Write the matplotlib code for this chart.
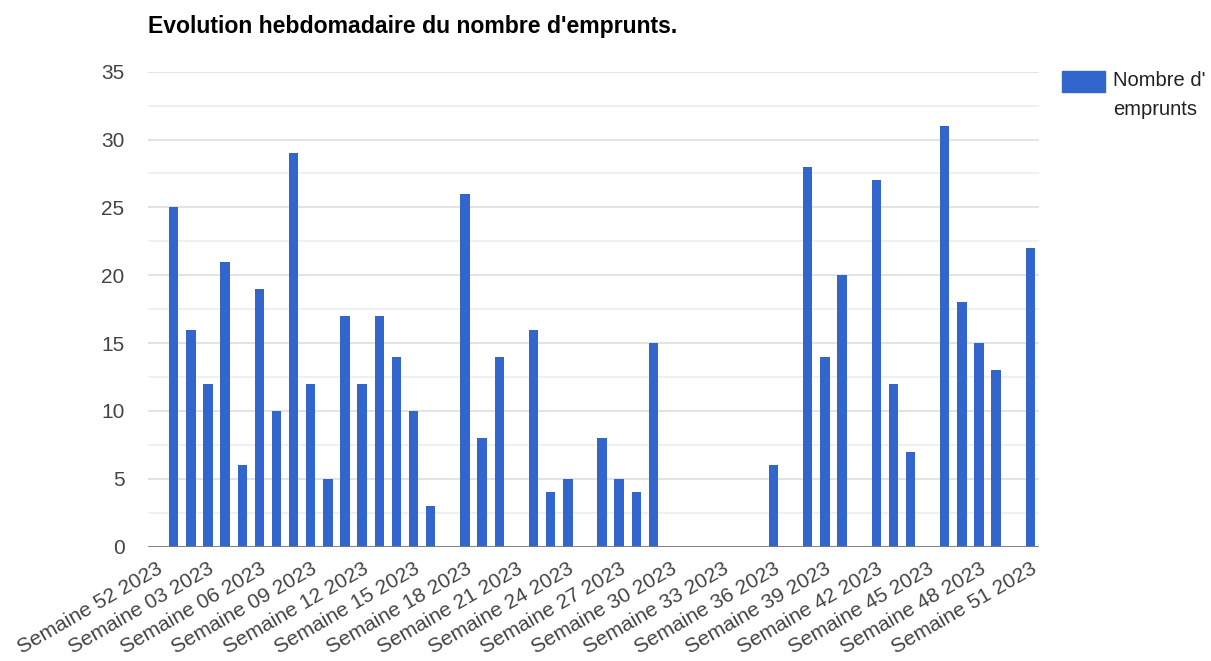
import matplotlib
matplotlib.use("Agg")
import matplotlib.pyplot as plt
from matplotlib.patches import Rectangle
import numpy as np

# semaines : 52 (2022 etiquetee 2023) puis 01 -> 51
semaines = ["52"] + ["%02d" % s for s in range(1, 52)]
etiquettes = ["Semaine %s 2023" % s for s in semaines]
emprunts = [0, 25, 16, 12, 21, 6, 19, 10, 29, 12, 5, 17, 12, 17, 14, 10, 3,
            0, 26, 8, 14, 0, 16, 4, 5, 0, 8, 5, 4, 15,
            0, 0, 0, 0, 0, 0, 6, 0, 28, 14, 20, 0, 27, 12, 7, 0,
            31, 18, 15, 13, 0, 22]
titre = "Evolution hebdomadaire du nombre d'emprunts."
legende = "Nombre d'\nemprunts"

plt.rcParams["font.family"] = ["Liberation Sans", "DejaVu Sans"]

W, H = 1211, 661
fig = plt.figure(figsize=(W / 100, H / 100), dpi=100)
ax = fig.add_axes([148 / W, (H - 546.7) / H, (1039 - 148) / W, (546.7 - 71.7) / H])

x = np.arange(len(semaines))
ax.bar(x, emprunts, width=0.55, color="#3366cc", zorder=3)

ax.set_xlim(-0.5, len(semaines) - 0.5)
ax.set_ylim(0, 35)
ax.set_yticks(np.arange(0, 36, 5))
ax.set_yticks(np.arange(2.5, 35, 5), minor=True)
ax.grid(axis="y", which="major", color="#e0e0e0", linewidth=1.3, zorder=0)
ax.grid(axis="y", which="minor", color="#efefef", linewidth=1.3, zorder=0)
ax.axhline(0, color="#7a7a7a", linewidth=1.3, zorder=4)

ax.set_xticks(x[::3])
ax.set_xticklabels(etiquettes[::3], rotation=30, ha="right", va="top",
                   rotation_mode="anchor")
ax.tick_params(axis="x", length=0, pad=9, labelsize=15, labelcolor="#444444")
ax.tick_params(axis="y", which="both", length=0, pad=17, labelsize=15,
               labelcolor="#444444")
for s in ax.spines.values():
    s.set_visible(False)

fig.text(148 / W, 1 - 26.5 / H, titre, fontsize=16.6, fontweight="bold",
         color="#000000", va="center", ha="left")

# legende
fig.add_artist(Rectangle((1062 / W, 1 - 91.5 / H), 43 / W, 20.5 / H,
                         transform=fig.transFigure, color="#3366cc"))
fig.text(1113 / W, 1 - 71 / H, legende, fontsize=14.5, color="#222222",
         va="top", ha="left", linespacing=1.65)

fig.savefig("out.png", dpi=100)
